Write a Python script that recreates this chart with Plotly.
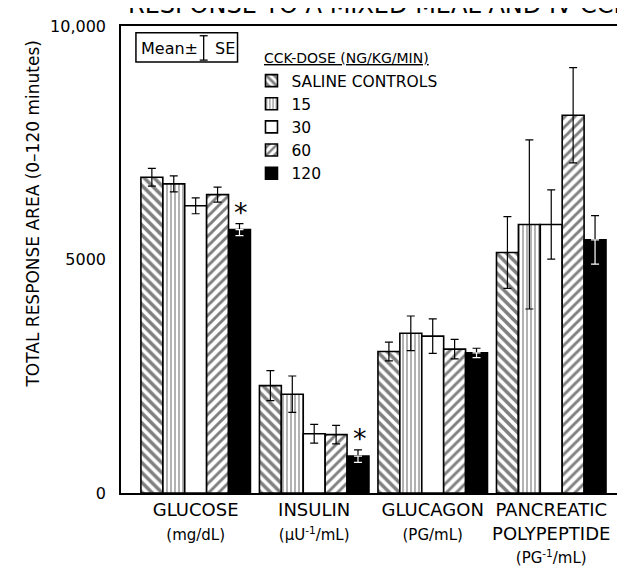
import plotly.graph_objects as go

# ---------------- data ----------------
categories = ["GLUCOSE", "INSULIN", "GLUCAGON", "PANCREATIC POLYPEPTIDE"]
tick_labels = [
    "GLUCOSE<br><span style='font-size:15px'>(mg/dL)</span>",
    "INSULIN<br><span style='font-size:15px'>(\u03bcU<sup>-1</sup>/mL)</span>",
    "GLUCAGON<br><span style='font-size:15px'>(PG/mL)</span>",
    "PANCREATIC<br>POLYPEPTIDE<br><span style='font-size:15px'>(PG<sup>-1</sup>/mL)</span>",
]
dose_names = ["SALINE CONTROLS", "15", "30", "60", "120"]

saline_vals = [6760, 2300, 3030, 5150]
saline_err = [190, 320, 200, 770]
d15_vals = [6620, 2115, 3420, 5750]
d15_err = [170, 390, 370, 1810]
d30_vals = [6150, 1270, 3360, 5750]
d30_err = [170, 200, 370, 740]
d60_vals = [6390, 1250, 3080, 8090]
d60_err = [160, 200, 210, 1020]
d120_vals = [5640, 790, 3000, 5420]
d120_err = [130, 135, 100, 520]

significant_120 = [True, True, False, False]  # asterisks

series_vals = [saline_vals, d15_vals, d30_vals, d60_vals, d120_vals]
series_err = [saline_err, d15_err, d30_err, d60_err, d120_err]

y_ticks = [0, 5000, 10000]
y_tick_text = ["0", "5000", "10,000"]

# ---------------- styling ----------------
FONT = "DejaVu Sans"
patterns = [
    dict(shape="\\", size=7, solidity=0.5),
    dict(shape="|", size=4, solidity=0.3),
    dict(shape="", size=6, solidity=0.3),
    dict(shape="/", size=7, solidity=0.42),
    dict(shape="", size=6, solidity=0.3),
]
fills = ["white", "white", "white", "white", "black"]

x_pos = list(range(len(categories)))
BARGAP = 0.076

fig = go.Figure()
for i, name in enumerate(dose_names):
    pat = dict(patterns[i])
    pat.update(fgcolor="black", bgcolor=fills[i], fillmode="overlay")
    fig.add_trace(go.Bar(
        x=x_pos, y=series_vals[i], name=name,
        offsetgroup=str(i),
        marker=dict(color=fills[i], line=dict(color="black", width=1.6),
                    pattern=pat),
        error_y=dict(type="data", array=series_err[i],
                     arrayminus=series_err[i] if i < 4 else [0] * 4,
                     color="black", thickness=1.2, width=4, visible=True),
    ))

# white lower part of error bars inside the black (120) bars
fig.add_trace(go.Bar(
    x=x_pos, y=d120_vals, offsetgroup="4", showlegend=False,
    marker=dict(color="rgba(0,0,0,0)", line=dict(width=0)),
    error_y=dict(type="data", array=[0] * 4, arrayminus=d120_err,
                 color="white", thickness=1.2, width=4),
    hoverinfo="skip",
))

# ---------------- geometry helpers (pixels -> paper) ----------------
L, R, T, B = 113, 616, 18, 497
W, H = R - L, B - T
def px(x):
    return (x - L) / W
def py(y):
    return (B - y) / H

annotations = []
# asterisks over 120 bars
group_w = 1 - BARGAP
bar_w = group_w / 5
off120 = -group_w / 2 + bar_w * 4.5
for j, sig in enumerate(significant_120):
    if sig:
        annotations.append(dict(
            x=x_pos[j] + off120, y=d120_vals[j] + d120_err[j], xref="x", yref="y",
            text="*", showarrow=False, font=dict(family=FONT, size=27, color="black"),
            xanchor="center", yanchor="bottom", xshift=2, yshift=-6))

# title (partly cut off at the top, as in the original)
annotations.append(dict(
    x=px(118), y=py(13), xref="paper", yref="paper", xanchor="left", yanchor="bottom",
    text="RESPONSE TO A MIXED MEAL AND IV CCK", showarrow=False,
    font=dict(family=FONT, size=24, color="black")))

# y axis title
annotations.append(dict(
    x=px(25), y=py(211), xref="paper", yref="paper", xanchor="center", yanchor="middle",
    text="TOTAL RESPONSE AREA (0\u2013120 minutes)", textangle=-90, showarrow=False,
    font=dict(family=FONT, size=17, color="black")))

# legend title
annotations.append(dict(
    x=px(255), y=py(51), xref="paper", yref="paper", xanchor="left", yanchor="middle",
    text="<u>CCK-DOSE (NG/KG/MIN)</u>", showarrow=False,
    font=dict(family=FONT, size=14, color="black")))

# Mean ± SE box
annotations.append(dict(
    x=px(131), y=py(41), xref="paper", yref="paper", xanchor="left", yanchor="middle",
    text="Mean\u00b1", showarrow=False, font=dict(family=FONT, size=16, color="black")))
annotations.append(dict(
    x=px(205), y=py(41), xref="paper", yref="paper", xanchor="left", yanchor="middle",
    text="SE", showarrow=False, font=dict(family=FONT, size=16, color="black")))

shapes = [
    dict(type="rect", xref="paper", yref="paper", x0=px(128), x1=px(230), y0=py(25), y1=py(55),
         line=dict(color="black", width=1.5), fillcolor="white", layer="above"),
    dict(type="line", xref="paper", yref="paper", x0=px(196), x1=px(196), y0=py(28), y1=py(53),
         line=dict(color="black", width=1.3)),
    dict(type="line", xref="paper", yref="paper", x0=px(192), x1=px(200), y0=py(28), y1=py(28),
         line=dict(color="black", width=1.3)),
    dict(type="line", xref="paper", yref="paper", x0=px(192), x1=px(200), y0=py(53), y1=py(53),
         line=dict(color="black", width=1.3)),
]

fig.update_layout(
    width=625, height=568,
    margin=dict(l=L, r=625 - R, t=T, b=568 - B, pad=0),
    paper_bgcolor="white", plot_bgcolor="white",
    barmode="group", bargap=BARGAP, bargroupgap=0,
    font=dict(family=FONT, color="black"),
    showlegend=True,
    legend=dict(x=px(244), y=py(57), xanchor="left", yanchor="top",
                font=dict(family=FONT, size=15.5, color="black"),
                bgcolor="rgba(0,0,0,0)", borderwidth=0, tracegroupgap=0,
                traceorder="normal"),
    annotations=annotations,
    shapes=shapes,
    xaxis=dict(range=[-0.63, 3.597], tickvals=x_pos, ticktext=tick_labels,
               showline=True, linecolor="black", linewidth=1.6, mirror=True,
               ticks="", showgrid=False, zeroline=False,
               tickfont=dict(family=FONT, size=18, color="black")),
    yaxis=dict(range=[0, 10000], tickvals=y_ticks, ticktext=y_tick_text,
               showline=True, linecolor="black", linewidth=1.6, mirror=True,
               ticks="", showgrid=False, zeroline=False, ticklabelstandoff=10,
               tickfont=dict(family=FONT, size=16, color="black")),
)

fig.write_html("out.html")
